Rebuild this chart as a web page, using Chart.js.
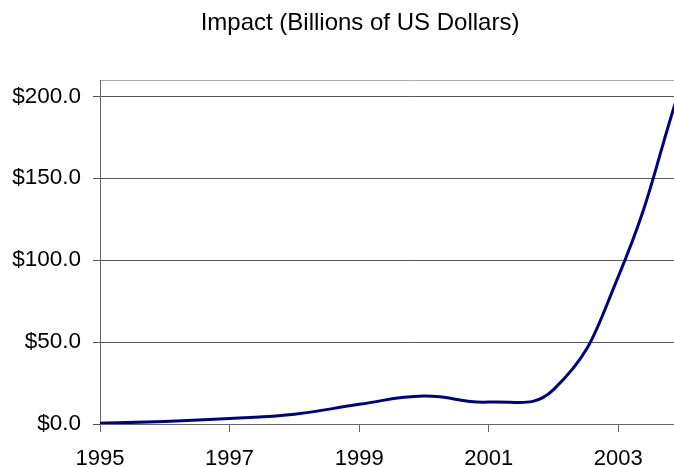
<!DOCTYPE html>
<html>
<head>
<meta charset="utf-8">
<script src="https://cdn.jsdelivr.net/npm/chart.js@4"></script>
<style>
    html, body { margin: 0; padding: 0; overflow: hidden; background: #fff; }
    #wrap { width: 720px; height: 467px; }
</style>
</head>
<body>
<div id="wrap"><canvas id="impact-chart"></canvas></div>
<script>
const years = [1995, 1996, 1997, 1998, 1999, 2000, 2001, 2002, 2003, 2004];
const impact = [0.5, 1.5, 3.3, 6.0, 12.0, 17.1, 13.4, 21.0, 90.0, 211.0];
const xTicks = [1995, 1997, 1999, 2001, 2003];
const yTicks = [0, 50, 100, 150, 200, 210];

function main() {
    const canvas = document.querySelector('#impact-chart');
    Chart.defaults.font.family = "'Liberation Sans', Arial, sans-serif";
    Chart.defaults.color = '#000';

    // the picture is cut off at the right, so the canvas runs past the window
    new Chart(canvas.getContext('2d'), {
        type: 'line',
        data: {
            datasets: [{
                label: 'Impact',
                data: years.map((year, i) => ({ x: year, y: impact[i] })),
                borderColor: '#000080',
                borderWidth: 3,
                pointRadius: 0,
                tension: 0.45,
                fill: false
            }]
        },
        options: {
            responsive: true,
            maintainAspectRatio: false,
            animation: false,
            layout: { padding: 0 },
            plugins: {
                legend: { display: false },
                tooltip: { enabled: false },
                title: {
                    display: true,
                    text: 'Impact (Billions of US Dollars)',
                    font: { size: 24, weight: 'normal' },
                    color: '#000',
                    padding: { top: 9, bottom: 42.2 }
                }
            },
            scales: {
                x: {
                    type: 'linear',
                    min: 1995,
                    max: 2004.57,
                    afterBuildTicks: scale => { scale.ticks = xTicks.map(v => ({ value: v })); },
                    afterFit: scale => { scale.height = 43; },
                    grid: { drawOnChartArea: false, drawTicks: true, tickLength: 8, color: '#666' },
                    border: { color: '#666', width: 1 },
                    ticks: {
                        font: { size: 22 },
                        padding: 14,
                        maxRotation: 0,
                        callback: v => String(v)
                    }
                },
                y: {
                    min: 0,
                    max: 210,
                    afterBuildTicks: scale => { scale.ticks = yTicks.map(v => ({ value: v })); },
                    afterFit: scale => { scale.width = 100; },
                    grid: {
                        color: ctx => (ctx.tick && ctx.tick.value === 210) ? '#aaa' : '#555',
                        tickColor: ctx => (ctx.tick && ctx.tick.value === 210) ? 'rgba(0,0,0,0)' : '#555',
                        tickLength: 7
                    },
                    border: { color: '#666', width: 1 },
                    ticks: {
                        font: { size: 22.5 },
                        padding: 12,
                        callback: v => v === 210 ? '' : '$' + v.toFixed(1)
                    }
                }
            }
        }
    });
}

main()
</script>
</body>
</html>
